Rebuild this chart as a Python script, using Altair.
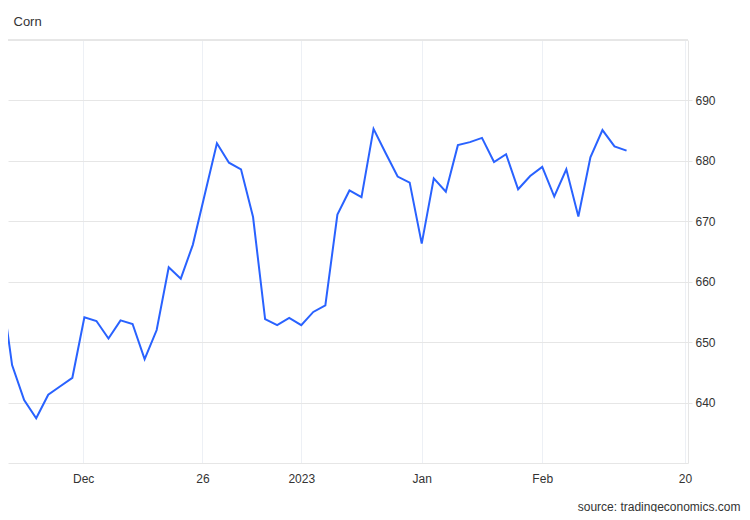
import altair as alt
import pandas as pd

# Corn prices (USd/BU), one value per trading session
prices = [660.6, 646.2, 640.4, 637.4, 641.3, 642.7, 644.1, 654.1, 653.5, 650.6,
          653.6, 653.0, 647.2, 652.0, 662.4, 660.5, 666.1, 674.5, 682.9, 679.7,
          678.6, 670.7, 653.8, 652.8, 654.0, 652.8, 655.0, 656.1, 671.1, 675.1,
          674.0, 685.3, 681.3, 677.4, 676.4, 666.3, 677.1, 674.9, 682.6, 683.1,
          683.8, 679.8, 681.1, 675.3, 677.5, 679.0, 674.1, 678.6, 670.8, 680.6,
          685.1, 682.4, 681.7]
session = list(range(len(prices)))

# x-axis tick positions (in session units) and their labels
tick_pos = [6.9, 16.8, 25, 35, 45, 56.85]
tick_lab = ["Dec", "26", "2023", "Jan", "Feb", "20"]
y_ticks = [640, 650, 660, 670, 680, 690]
y_top = 700

df = pd.DataFrame({"session": session, "price": prices})

label_map = "{" + ",".join(f"'{p}':'{l}'" for p, l in zip(tick_pos, tick_lab)) + "}"

FONT = "Liberation Sans, Arial, sans-serif"
GRID = "#e6e6e6"

x_enc = alt.X(
    "session:Q",
    scale=alt.Scale(domain=[0.66, 57.1], nice=False, zero=False),
    axis=alt.Axis(
        values=tick_pos,
        labelExpr=f"{label_map}[toString(datum.value)]",
        grid=True, gridColor="#edf0f5",
        ticks=False, tickSize=0, labelPadding=10,
        domain=True, domainColor=GRID,
        labelFont=FONT, labelFontSize=12, labelColor="#333333",
        title="source: tradingeconomics.com",
        titleFont=FONT, titleFontSize=12, titleFontWeight="normal",
        titleColor="#333333", titleAlign="right", titleAnchor="end",
        titleX=732, titleY=43, titleBaseline="middle",
    ),
)

y_enc = alt.Y(
    "price:Q",
    scale=alt.Scale(domain=[630, 700], nice=False, zero=False),
    axis=alt.Axis(
        orient="right", values=y_ticks, grid=True, gridColor=GRID,
        tickColor=GRID, tickSize=4, labelPadding=3,
        domainColor=GRID, labelFont=FONT, labelFontSize=12,
        labelColor="#333333", title=None,
    ),
)

line = alt.Chart(df).mark_line(color="#2962ff", strokeWidth=2, clip=True).encode(
    x=x_enc, y=y_enc,
)

top_rule = alt.Chart(df).mark_rule(color=GRID, strokeWidth=1).encode(
    y=alt.datum(y_top),
)

chart = alt.layer(top_rule, line).properties(
    width=680,
    height=423,
    title=alt.TitleParams(
        "Corn", anchor="start", dx=6, offset=11,
        font=FONT, fontSize=13, fontWeight="normal", color="#333333",
    ),
    autosize=alt.AutoSizeParams(type="none"),
    padding={"left": 0, "top": 32, "right": 54, "bottom": 49},
).configure(background="white").configure_view(stroke=None)

chart.save("out.html", embed_options={"renderer": "svg", "actions": False})
